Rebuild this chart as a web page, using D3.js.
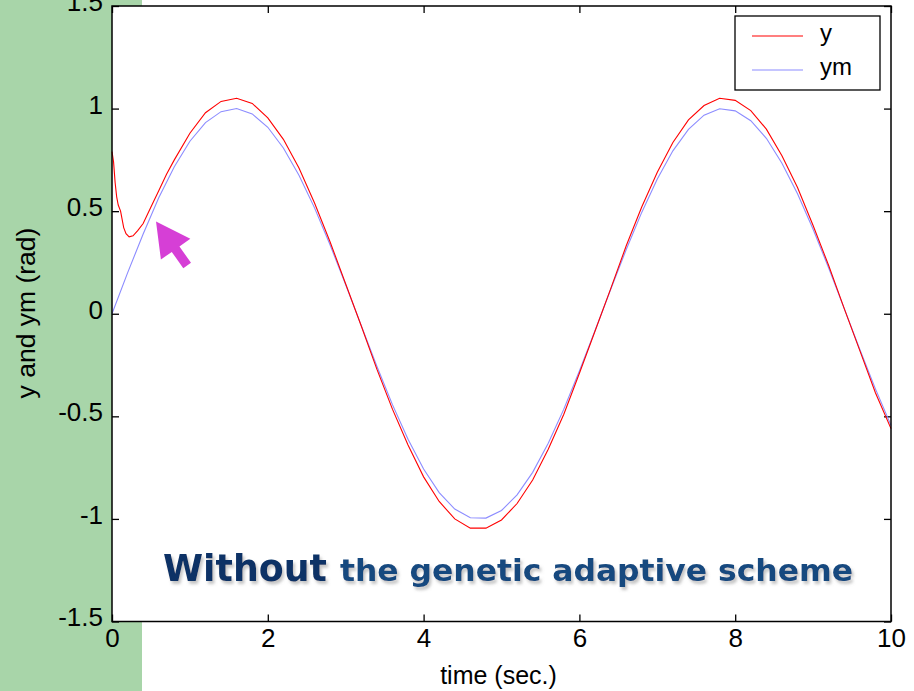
<!DOCTYPE html>
<html>
<head>
<meta charset="utf-8">
<script src="https://cdn.jsdelivr.net/npm/d3@7"></script>
<style>
  body { margin: 0; background: #fff; }
  text { font-family: "Liberation Sans", Arial, sans-serif; }
</style>
</head>
<body>
<svg id="chart" width="914" height="691"></svg>
<script>
// model output ym (rad), every 0.2 s
var tm = [0, 0.2, 0.4, 0.6, 0.8, 1.0, 1.2, 1.4, 1.6, 1.8, 2.0, 2.2, 2.4, 2.6, 2.8, 3.0,
  3.2, 3.4, 3.6, 3.8, 4.0, 4.2, 4.4, 4.6, 4.8, 5.0, 5.2, 5.4, 5.6, 5.8, 6.0,
  6.2, 6.4, 6.6, 6.8, 7.0, 7.2, 7.4, 7.6, 7.8, 8.0, 8.2, 8.4, 8.6, 8.8, 9.0,
  9.2, 9.4, 9.6, 9.8, 10.0];
var ym = [0, 0.199, 0.389, 0.565, 0.717, 0.841, 0.932, 0.985, 1.0, 0.974, 0.909, 0.808, 0.675, 0.516, 0.335, 0.141,
  -0.058, -0.256, -0.443, -0.612, -0.757, -0.872, -0.952, -0.994, -0.996, -0.959, -0.883, -0.773, -0.631, -0.465, -0.279,
  -0.083, 0.117, 0.312, 0.494, 0.657, 0.794, 0.899, 0.968, 0.999, 0.989, 0.941, 0.855, 0.734, 0.585, 0.412,
  0.223, 0.025, -0.174, -0.366, -0.544];

// plant output y (rad), denser at the start where it dips
var ty = [0, 0.02, 0.04, 0.06, 0.08, 0.11, 0.15, 0.18, 0.22, 0.27, 0.33, 0.4, 0.5, 0.6, 0.7,
  0.8, 1.0, 1.2, 1.4, 1.6, 1.8, 2.0, 2.2, 2.4, 2.6, 2.8, 3.0,
  3.2, 3.4, 3.6, 3.8, 4.0, 4.2, 4.4, 4.6, 4.8, 5.0, 5.2, 5.4, 5.6, 5.8, 6.0,
  6.2, 6.4, 6.6, 6.8, 7.0, 7.2, 7.4, 7.6, 7.8, 8.0, 8.2, 8.4, 8.6, 8.8, 9.0,
  9.2, 9.4, 9.6, 9.8, 10.0];
var yv = [0.79, 0.74, 0.64, 0.57, 0.53, 0.50, 0.42, 0.39, 0.375, 0.38, 0.405, 0.44, 0.52, 0.60, 0.68,
  0.75, 0.88, 0.98, 1.035, 1.05, 1.025, 0.955, 0.85, 0.71, 0.54, 0.35, 0.145,
  -0.06, -0.27, -0.465, -0.64, -0.795, -0.915, -1.0, -1.045, -1.045, -1.005, -0.925, -0.81, -0.66, -0.49, -0.29,
  -0.085, 0.12, 0.33, 0.52, 0.69, 0.835, 0.945, 1.015, 1.05, 1.04, 0.99, 0.9, 0.77, 0.615, 0.43,
  0.235, 0.025, -0.18, -0.385, -0.56];

var xTicks = [0, 2, 4, 6, 8, 10];
var yTicks = [-1.5, -1, -0.5, 0, 0.5, 1, 1.5];
var seriesNames = ["y", "ym"];
var seriesColors = ["#ff0000", "#8c8cff"];

var svg = d3.select("#chart");
var pLeft = 112, pRight = 891, pTop = 6, pBottom = 621.5;

// green strip behind the left side
svg.append("rect").attr("x", 0).attr("y", 0).attr("width", 142).attr("height", 691).attr("fill", "#a8d5a9");

var x = d3.scaleLinear().domain([0, 10]).range([pLeft, pRight]);
var y = d3.scaleLinear().domain([-1.5, 1.5]).range([pBottom, pTop]);

svg.append("rect").attr("x", pLeft).attr("y", pTop)
  .attr("width", pRight - pLeft).attr("height", pBottom - pTop).attr("fill", "#fff");

var fmt = function (d) { return String(d); };

/* axes, ticks pointing inward */
var gx = svg.append("g").attr("transform", "translate(0," + pBottom + ")")
  .call(d3.axisBottom(x).tickValues(xTicks).tickFormat(fmt).tickSizeInner(-7).tickSizeOuter(0).tickPadding(7));
var gy = svg.append("g").attr("transform", "translate(" + pLeft + ",0)")
  .call(d3.axisLeft(y).tickValues(yTicks).tickFormat(fmt).tickSizeInner(-7).tickSizeOuter(0).tickPadding(9));
var gt = svg.append("g").attr("transform", "translate(0," + pTop + ")")
  .call(d3.axisTop(x).tickValues(xTicks).tickFormat("").tickSizeInner(-7).tickSizeOuter(0));
var gr = svg.append("g").attr("transform", "translate(" + pRight + ",0)")
  .call(d3.axisRight(y).tickValues(yTicks).tickFormat("").tickSizeInner(-7).tickSizeOuter(0));

[gx, gy, gt, gr].forEach(function (g) {
  g.select(".domain").remove();
  g.selectAll("line").attr("stroke", "#000").attr("stroke-width", 1.3);
  g.selectAll("text").attr("fill", "#000").style("font-size", "26px")
    .style("font-family", "'Liberation Sans', Arial, sans-serif");
});
gy.selectAll("text").attr("dy", "0.17em");

/* lines */
var lineM = d3.line().x(function (d, i) { return x(tm[i]); }).y(function (d) { return y(d); });
var lineY = d3.line().x(function (d, i) { return x(ty[i]); }).y(function (d) { return y(d); });

svg.append("path").datum(ym).attr("d", lineM)
  .attr("fill", "none").attr("stroke", seriesColors[1]).attr("stroke-width", 1.1);
svg.append("path").datum(yv).attr("d", lineY)
  .attr("fill", "none").attr("stroke", seriesColors[0]).attr("stroke-width", 1.1);

/* frame */
svg.append("rect").attr("x", pLeft).attr("y", pTop)
  .attr("width", pRight - pLeft).attr("height", pBottom - pTop)
  .attr("fill", "none").attr("stroke", "#000").attr("stroke-width", 1.5);

/* axis titles */
svg.append("text").attr("x", (pLeft + pRight) / 2 - 3).attr("y", 684)
  .attr("text-anchor", "middle").style("font-size", "25px").text("time (sec.)");
svg.append("text").attr("transform", "translate(35,313) rotate(-90)")
  .attr("text-anchor", "middle").style("font-size", "26.5px").text("y and ym (rad)");

/* legend */
var lg = svg.append("g").attr("transform", "translate(735,16)");
lg.append("rect").attr("width", 145).attr("height", 74)
  .attr("fill", "#fff").attr("stroke", "#000").attr("stroke-width", 1.3);
seriesNames.forEach(function (name, i) {
  var yy = 20 + i * 34;
  lg.append("line").attr("x1", 17).attr("x2", 68).attr("y1", yy).attr("y2", yy)
    .attr("stroke", seriesColors[i]).attr("stroke-width", 1.1);
  lg.append("text").attr("x", 85).attr("y", yy + 5).style("font-size", "24px").text(name);
});

/* arrow pointing at the point where y meets ym */
var arrowTip = [0.565, 0.45];
svg.append("path")
  .attr("transform", "translate(" + x(arrowTip[0]) + "," + y(arrowTip[1]) + ") rotate(54.8)")
  .attr("d", "M0,0 L34,-18 L34,-4.7 L54,-4.7 L54,4.7 L34,4.7 L34,18 Z")
  .attr("fill", "#d63fd6");

/* caption with soft shadow */
var defs = svg.append("defs");
var f = defs.append("filter").attr("id", "shadow").attr("x", "-5%").attr("y", "-20%")
  .attr("width", "115%").attr("height", "160%");
f.append("feDropShadow").attr("dx", 2).attr("dy", 3).attr("stdDeviation", 1.5)
  .attr("flood-color", "#888").attr("flood-opacity", 0.5);

var capFont = "'DejaVu Sans Condensed', 'DejaVu Sans', Verdana, sans-serif";
svg.append("text").attr("x", 163).attr("y", 581)
  .attr("filter", "url(#shadow)")
  .attr("textLength", 164).attr("lengthAdjust", "spacingAndGlyphs")
  .style("font-family", capFont).style("font-stretch", "condensed").style("font-weight", "bold")
  .style("font-size", "38px").attr("fill", "#0b3366").text("Without");
svg.append("text").attr("x", 340).attr("y", 581)
  .attr("filter", "url(#shadow)")
  .attr("textLength", 513).attr("lengthAdjust", "spacingAndGlyphs")
  .style("font-family", capFont).style("font-stretch", "condensed").style("font-weight", "bold")
  .style("font-size", "31px").attr("fill", "#17497f").text("the genetic adaptive scheme");
</script>
</body>
</html>
